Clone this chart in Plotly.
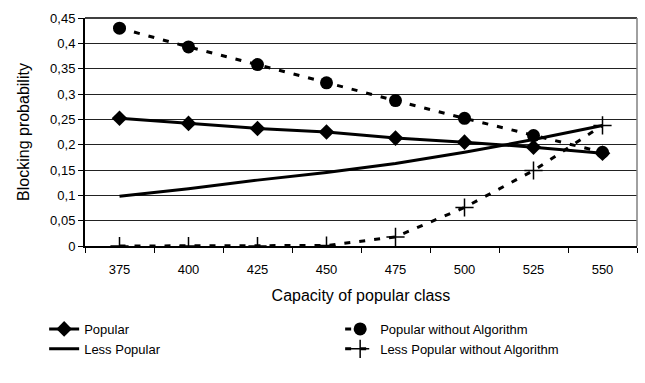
import plotly.graph_objects as go

capacity = ["375", "400", "425", "450", "475", "500", "525", "550"]
popular = [0.252, 0.242, 0.232, 0.225, 0.213, 0.205, 0.195, 0.183]
popular_no_alg = [0.430, 0.393, 0.358, 0.322, 0.287, 0.252, 0.218, 0.185]
less_popular = [0.098, 0.113, 0.130, 0.145, 0.163, 0.185, 0.210, 0.238]
less_popular_no_alg = [0.0, 0.0, 0.0, 0.001, 0.018, 0.076, 0.149, 0.238]

black = "#000000"
fam = "Liberation Sans"
fig = go.Figure()
fig.add_trace(go.Scatter(
    x=capacity, y=popular, name="Popular", mode="lines+markers",
    line=dict(color=black, width=3),
    marker=dict(symbol="diamond", size=12, color=black)))
fig.add_trace(go.Scatter(
    x=capacity, y=popular_no_alg, name="Popular without Algorithm", mode="lines+markers",
    line=dict(color=black, width=3, dash="6px,9px"),
    marker=dict(symbol="circle", size=13, color=black)))
fig.add_trace(go.Scatter(
    x=capacity, y=less_popular, name="Less Popular", mode="lines",
    line=dict(color=black, width=3)))
fig.add_trace(go.Scatter(
    x=capacity, y=less_popular_no_alg, name="Less Popular without Algorithm", mode="lines+markers",
    line=dict(color=black, width=3, dash="6px,9px"),
    marker=dict(symbol="cross-thin", size=13, color=black,
                line=dict(color=black, width=1.5))))

fig.update_layout(
    width=645, height=383,
    margin=dict(l=85, r=8, t=18, b=137, autoexpand=False),
    paper_bgcolor="white", plot_bgcolor="white",
    font=dict(family=fam, size=13, color="#000"), separators=", ",
    showlegend=True,
    legend=dict(orientation="h", x=-0.074, y=-0.298,
                yanchor="top", xanchor="left",
                entrywidth=251, tracegroupgap=0,
                font=dict(family=fam, size=13)),
    xaxis=dict(
        type="category", tickson="boundaries", ticks="outside", ticklen=5,
        tickcolor=black, showline=True, linecolor=black, linewidth=2,
        showgrid=False, mirror=False, ticklabelstandoff=10,
        title=dict(text="Capacity of popular class", standoff=14),
        range=[-0.5, 7.5]),
    yaxis=dict(
        range=[0, 0.45], dtick=0.05, ticks="outside", ticklen=5,
        tickcolor=black, showline=True, linecolor=black, linewidth=2,
        showgrid=True, gridcolor="#222222", gridwidth=1, zeroline=False,
        title=dict(text="Blocking probability", standoff=16)),
)
# top and right frame of the plot area
fig.add_shape(type="line", xref="paper", yref="paper", x0=0, x1=1, y0=1, y1=1,
              line=dict(color=black, width=1.5))
fig.add_shape(type="line", xref="paper", yref="paper", x0=1, x1=1, y0=0, y1=1,
              line=dict(color="#808080", width=1.5))
fig.write_html("out.html")
